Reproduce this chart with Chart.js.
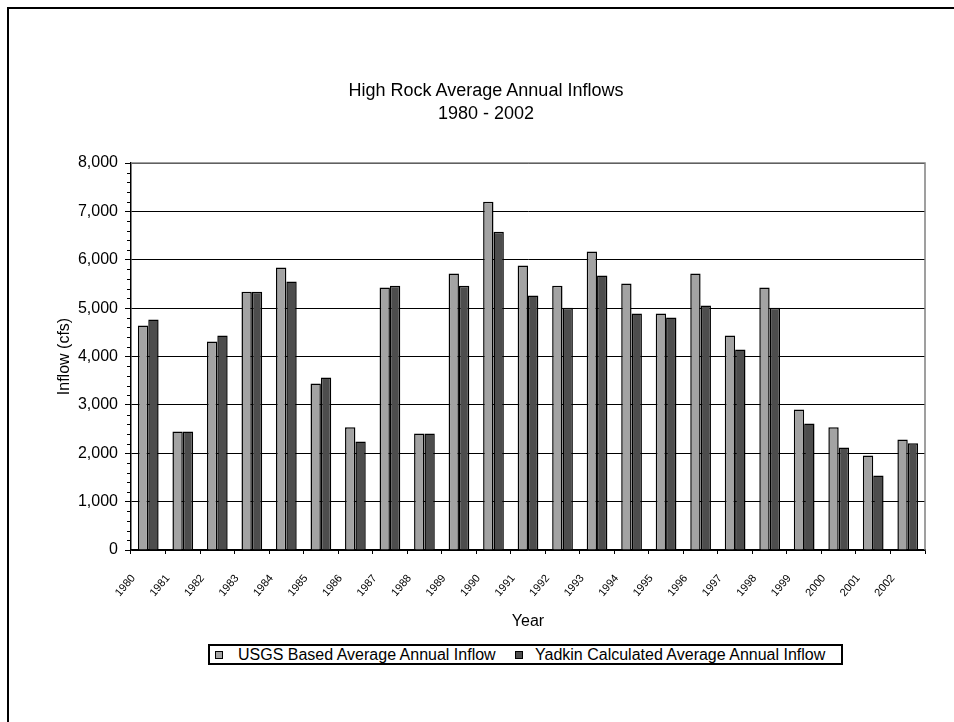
<!DOCTYPE html>
<html lang="en">
<head>
    <meta charset="UTF-8">
    <title>High Rock Average Annual Inflows</title>
    <script src="https://cdn.jsdelivr.net/npm/chart.js"></script>
    <style>
        html, body { margin: 0; padding: 0; background: #fff; overflow: hidden; }
        body { width: 954px; height: 722px; position: relative; font-family: 'Liberation Sans', Arial, sans-serif; }
        .frame { position: absolute; left: 7px; top: 7px; right: 0; bottom: 0; border-left: 2px solid #000; border-top: 2px solid #000; }
        .chart-container { position: absolute; left: 0; top: 0; width: 954px; height: 722px; }
        .chart-title { position: absolute; left: 286px; top: 79px; width: 400px; text-align: center; font-size: 18px; line-height: 23px; color: #000; }
        .custom-legend { position: absolute; left: 208px; top: 644px; width: 635px; height: 21px; box-sizing: border-box; border: 2px solid #000; background: #fff; }
        .custom-legend-item { position: absolute; top: 0; height: 17px; display: flex; align-items: center; font-size: 16px; color: #000; white-space: nowrap; }
        .custom-legend-box { width: 8px; height: 8px; box-sizing: border-box; border: 1.5px solid #000; margin-right: 15px; }
    </style>
</head>
<body>
    <div class="frame"></div>
    <div class="chart-container">
        <canvas id="inflowChart" width="954" height="722"></canvas>
    </div>
    <div class="chart-title">High Rock Average Annual Inflows<br>1980 - 2002</div>
    <script>
        const years = ['1980', '1981', '1982', '1983', '1984', '1985', '1986', '1987', '1988', '1989', '1990', '1991',
                       '1992', '1993', '1994', '1995', '1996', '1997', '1998', '1999', '2000', '2001', '2002'];
        const usgsInflow = [4640, 2450, 4310, 5340, 5840, 3440, 2535, 5425, 2410, 5715, 7200, 5880,
                            5465, 6170, 5510, 4890, 5715, 4435, 5425, 2905, 2535, 1955, 2285];
        const yadkinInflow = [4765, 2450, 4435, 5340, 5550, 3565, 2245, 5465, 2410, 5465, 6580, 5260,
                              5010, 5675, 4890, 4805, 5055, 4145, 5010, 2615, 2120, 1540, 2205];
        const seriesNames = ['USGS Based Average Annual Inflow', 'Yadkin Calculated Average Annual Inflow'];
        const yMin = 0, yMax = 8000, yStep = 1000, yMinorStep = 200;

        Chart.defaults.font.family = "'Liberation Sans', Arial, sans-serif";
        Chart.defaults.color = '#000';

        // short minor ticks on the value axis and the grey top/right edge of the plot area
        const plotDecor = {
            id: 'plotDecor',
            afterDatasetsDraw(chart) {
                const { ctx, chartArea, scales } = chart;
                const y = scales.y;
                ctx.save();
                ctx.strokeStyle = '#000';
                ctx.lineWidth = 1;
                for (let v = yMin; v <= yMax; v += yMinorStep) {
                    if (v % yStep === 0) continue;
                    const py = Math.round(y.getPixelForValue(v)) + 0.5;
                    ctx.beginPath();
                    ctx.moveTo(chartArea.left - 4, py);
                    ctx.lineTo(chartArea.left, py);
                    ctx.stroke();
                }
                ctx.strokeStyle = '#808080';
                ctx.lineWidth = 1.5;
                ctx.beginPath();
                ctx.moveTo(chartArea.left, chartArea.top);
                ctx.lineTo(chartArea.right, chartArea.top);
                ctx.lineTo(chartArea.right, chartArea.bottom);
                ctx.stroke();
                ctx.restore();
            }
        };

        const ctx = document.getElementById('inflowChart').getContext('2d');
        const inflowChart = new Chart(ctx, {
            type: 'bar',
            data: {
                labels: years,
                datasets: [{
                    label: seriesNames[0],
                    data: usgsInflow,
                    backgroundColor: '#A3A3A3',
                    borderColor: '#000',
                    borderWidth: 1.5
                }, {
                    label: seriesNames[1],
                    data: yadkinInflow,
                    backgroundColor: '#4D4D4D',
                    borderColor: '#000',
                    borderWidth: 1.5
                }]
            },
            options: {
                responsive: false,
                animation: false,
                layout: { padding: { left: 50, top: 163, right: 29, bottom: 80 } },
                datasets: { bar: { categoryPercentage: 0.6, barPercentage: 1.0 } },
                plugins: {
                    legend: { display: false },
                    tooltip: { enabled: false }
                },
                scales: {
                    x: {
                        grid: { drawOnChartArea: false, drawTicks: true, tickLength: 4, tickColor: '#000', offset: true },
                        border: { color: '#000', width: 1.5 },
                        ticks: {
                            font: { size: 11 },
                            minRotation: 50,
                            maxRotation: 50,
                            autoSkip: false,
                            padding: 18,
                            labelOffset: -15
                        },
                        title: { display: true, text: 'Year', font: { size: 16 }, padding: { top: 0, bottom: 11 } },
                        afterFit(scale) { scale.height = 92; }
                    },
                    y: {
                        min: yMin,
                        max: yMax,
                        grid: { color: '#000', lineWidth: 1, tickLength: 6, tickColor: '#000' },
                        border: { color: '#000', width: 1.5 },
                        ticks: {
                            stepSize: yStep,
                            font: { size: 16 },
                            padding: 7,
                            callback: (v) => v.toLocaleString('en-US')
                        },
                        title: { display: true, text: 'Inflow (cfs)', font: { size: 16 }, padding: { top: 5, bottom: 0 } },
                        afterFit(scale) { scale.width = 81; }
                    }
                }
            },
            plugins: [plotDecor]
        });

        // Custom legend with a boxed frame
        const legendContainer = document.createElement('div');
        legendContainer.className = 'custom-legend';
        const legendLefts = [5, 305];

        inflowChart.data.datasets.forEach((ds, index) => {
            const legendItem = document.createElement('div');
            legendItem.className = 'custom-legend-item';
            legendItem.style.left = legendLefts[index] + 'px';

            const colorBox = document.createElement('div');
            colorBox.className = 'custom-legend-box';
            colorBox.style.backgroundColor = ds.backgroundColor;
            if (index === 1) colorBox.style.marginRight = '12px';

            const text = document.createElement('span');
            text.textContent = ds.label;

            legendItem.appendChild(colorBox);
            legendItem.appendChild(text);
            legendContainer.appendChild(legendItem);
        });

        document.body.appendChild(legendContainer);
    </script>
</body>
</html>
